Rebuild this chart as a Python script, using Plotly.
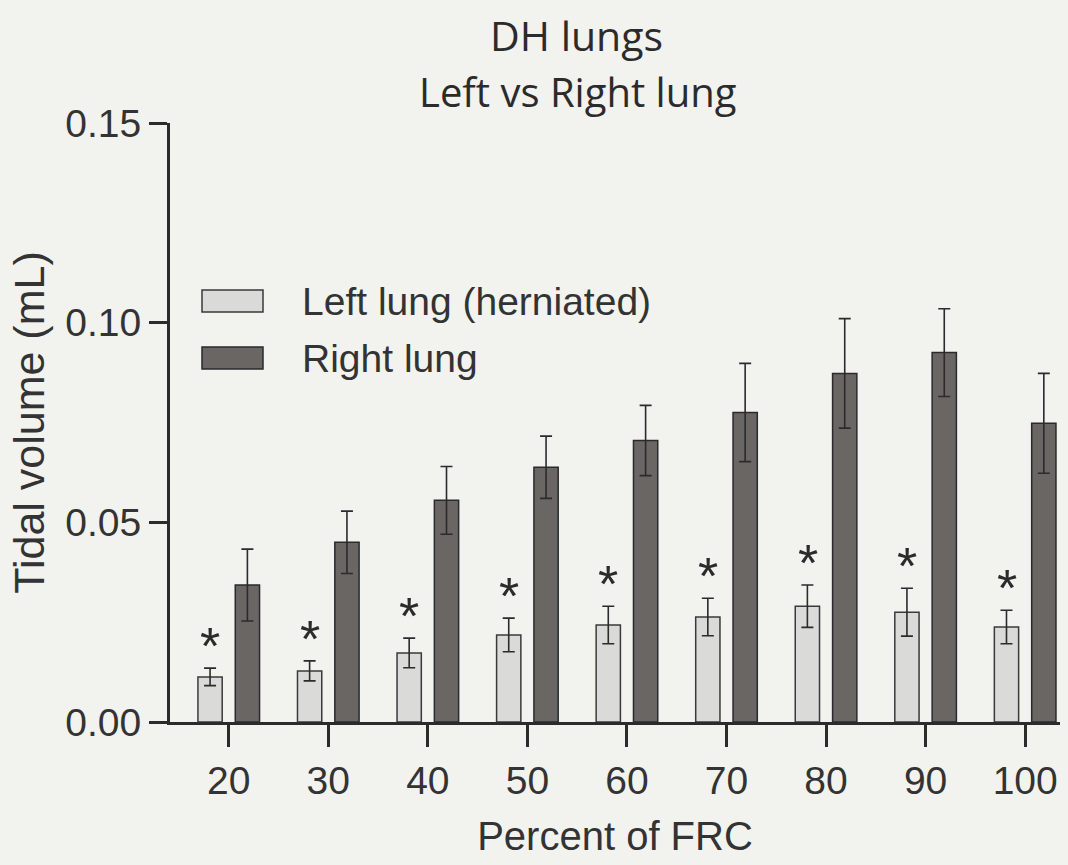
import plotly.graph_objects as go

categories = ["20", "30", "40", "50", "60", "70", "80", "90", "100"]
left_lung = [0.0113, 0.0128, 0.0173, 0.0218, 0.0243, 0.0263, 0.0290, 0.0275, 0.0238]
left_err = [0.0022, 0.0025, 0.0037, 0.0042, 0.0047, 0.0047, 0.0053, 0.0060, 0.0042]
right_lung = [0.0343, 0.0450, 0.0555, 0.0638, 0.0705, 0.0775, 0.0873, 0.0925, 0.0748]
right_err = [0.0090, 0.0078, 0.0085, 0.0078, 0.0088, 0.0123, 0.0137, 0.0110, 0.0125]
stars = ["*"] * 9
series_names = ["Left lung (herniated)", "Right lung"]
y_ticks = [0, 0.05, 0.10, 0.15]
y_ticktext = ["0.00", "0.05", "0.10", "0.15"]

bg = "#f2f2ee"
ink = "#2b2b2b"
left_fill = "#dadad8"
right_fill = "#6a6664"
sans = "Liberation Sans, Arial"
title_font = "Open Sans, Lato"

# plot area in pixels (for paper-coordinate conversions)
W, H = 1068, 865
L, R, T, B = 170, 8, 123, 143
PW, PH = W - L - R, H - T - B


def px(xpix):
    return (xpix - L) / PW


def py(ypix):
    return (H - B - ypix) / PH


fig = go.Figure()
fig.add_trace(go.Bar(
    x=categories, y=left_lung, name=series_names[0], showlegend=False,
    marker=dict(color=left_fill, line=dict(color="#3a3a3a", width=1.5)),
    error_y=dict(type="data", array=left_err, color=ink, thickness=1.6, width=6),
))
fig.add_trace(go.Bar(
    x=categories, y=right_lung, name=series_names[1], showlegend=False,
    marker=dict(color=right_fill, line=dict(color="#2a2a2a", width=1.5)),
    error_y=dict(type="data", array=right_err, color=ink, thickness=1.6, width=6),
))

annotations = []
for i, c in enumerate(categories):
    # category axis: position by category index (numeric-looking names are ambiguous)
    annotations.append(dict(
        x=i, y=left_lung[i] + left_err[i], xref="x", yref="y",
        xshift=-18.5, yshift=22, yanchor="middle",
        text=stars[i], showarrow=False,
        font=dict(family=sans, size=52, color=ink),
    ))

annotations.append(dict(text="DH lungs", xref="paper", yref="paper",
                        x=px(576), y=py(35), yanchor="middle", xanchor="center",
                        showarrow=False, font=dict(family=title_font, size=41, color=ink)))
annotations.append(dict(text="Left vs Right lung", xref="paper", yref="paper",
                        x=px(577), y=py(91), yanchor="middle", xanchor="center",
                        showarrow=False, font=dict(family=title_font, size=40, color=ink)))

# manual legend (large swatches like the original)
shapes = []
legend_rows = [(301, left_fill, "#3a3a3a"), (358, right_fill, "#2a2a2a")]
for (yc, fill, edge), name in zip(legend_rows, series_names):
    shapes.append(dict(type="rect", xref="paper", yref="paper",
                       x0=px(202), x1=px(263), y0=py(yc + 11), y1=py(yc - 11),
                       fillcolor=fill, line=dict(color=edge, width=1.5)))
    annotations.append(dict(text=name, xref="paper", yref="paper",
                            x=px(300), y=py(yc), xanchor="left", yanchor="middle",
                            showarrow=False, font=dict(family=sans, size=39, color="#333333")))

fig.update_layout(
    width=W, height=H,
    paper_bgcolor=bg, plot_bgcolor=bg,
    margin=dict(l=L, r=R, t=T, b=B),
    barmode="group", bargap=0.25, bargroupgap=0.35,
    showlegend=False,
    font=dict(family=sans, color=ink),
    annotations=annotations,
    shapes=shapes,
)

fig.update_xaxes(
    type="category", range=[-0.59, 8.35],
    showline=True, linecolor=ink, linewidth=3,
    ticks="outside", ticklen=22, tickwidth=2.5, tickcolor=ink,
    tickfont=dict(family=sans, size=39, color="#333333"),
    title=dict(text="Percent of FRC", font=dict(family=sans, size=40, color="#333333"), standoff=22),
    showgrid=False, zeroline=False,
)
fig.update_yaxes(
    range=[0, 0.15], tickvals=y_ticks, ticktext=y_ticktext,
    showline=True, linecolor=ink, linewidth=3,
    ticks="outside", ticklen=18, tickwidth=3, tickcolor=ink,
    tickfont=dict(family=sans, size=39, color="#333333"),
    title=dict(text="Tidal volume (mL)", font=dict(family=sans, size=43, color="#333333"), standoff=8),
    showgrid=False, zeroline=False,
)

fig.write_html("out.html")
